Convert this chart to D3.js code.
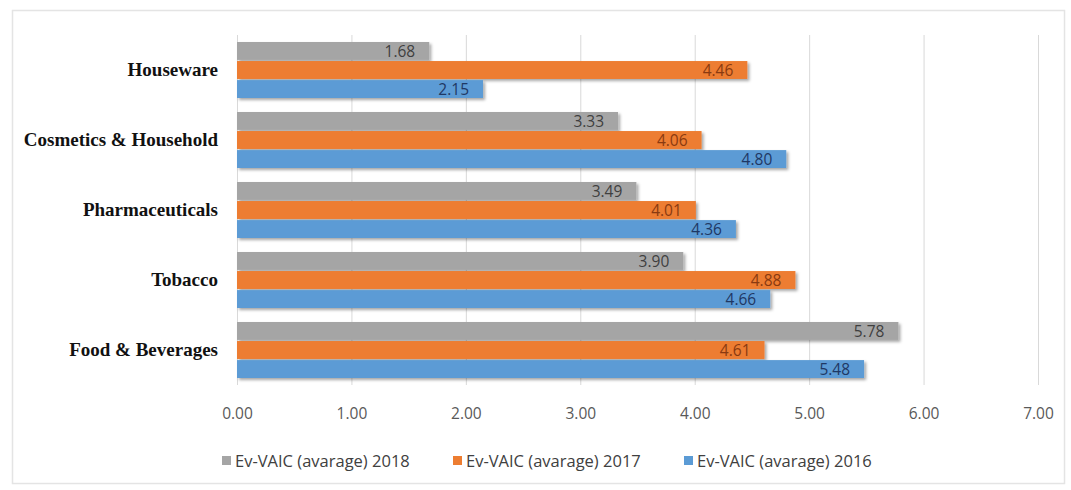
<!DOCTYPE html>
<html>
<head>
<meta charset="utf-8">
<script src="https://cdn.jsdelivr.net/npm/d3@7"></script>
<style>
  body { margin: 0; background: #fff; }
  svg { display: block; }
</style>
</head>
<body>
<div id="chart"></div>
<script>
// --- data ---
const categories = ["Houseware", "Cosmetics & Household", "Pharmaceuticals", "Tobacco", "Food & Beverages"];
const seriesNames = ["Ev-VAIC (avarage) 2018", "Ev-VAIC (avarage) 2017", "Ev-VAIC (avarage) 2016"];
const values2018 = [1.68, 3.33, 3.49, 3.90, 5.78];
const values2017 = [4.46, 4.06, 4.01, 4.88, 4.61];
const values2016 = [2.15, 4.80, 4.36, 4.66, 5.48];
const xTicks = [0, 1, 2, 3, 4, 5, 6, 7];

const seriesValues = [values2018, values2017, values2016];
const barColors = ["#a5a5a5", "#ed7d31", "#5b9bd5"];
const labelColors = ["#3f3f3f", "#8a3a10", "#1f3864"];

// --- setup ---
const W = 1071, H = 490;
const plot = { left: 237, right: 1038, top: 35, bottom: 385 };

const svg = d3.select("#chart").append("svg")
    .attr("width", W)
    .attr("height", H);

const defs = svg.append("defs");
const shadow = defs.append("filter")
    .attr("id", "shadow")
    .attr("x", "-5%").attr("y", "-30%")
    .attr("width", "115%").attr("height", "180%");
shadow.append("feDropShadow")
    .attr("dx", 2).attr("dy", 2)
    .attr("stdDeviation", 1.5)
    .attr("flood-color", "#000")
    .attr("flood-opacity", 0.35);

// chart frame
svg.append("rect")
    .attr("x", 12.5).attr("y", 10.5)
    .attr("width", 1052).attr("height", 473)
    .attr("fill", "#fff")
    .attr("stroke", "#e4e4e4")
    .attr("stroke-width", 1.5);

const x = d3.scaleLinear()
    .domain([0, 7])
    .range([plot.left, plot.right]);

const y = d3.scaleBand()
    .domain(categories)
    .range([plot.top, plot.bottom])
    .paddingInner(0.2)
    .paddingOuter(0.1);

const ySub = d3.scaleBand()
    .domain(d3.range(seriesNames.length))
    .range([0, y.bandwidth()])
    .paddingInner(0.06);

// gridlines
svg.append("g")
    .selectAll("line")
    .data(xTicks)
    .join("line")
    .attr("x1", d => x(d) + 0.5)
    .attr("x2", d => x(d) + 0.5)
    .attr("y1", plot.top)
    .attr("y2", plot.bottom)
    .attr("stroke", "#d9d9d9")
    .attr("stroke-width", 1);

// x axis labels
const xAxis = svg.append("g")
    .attr("transform", `translate(0,${plot.bottom + 20})`)
    .call(d3.axisBottom(x).tickValues(xTicks).tickFormat(d3.format(".2f")).tickSize(0));
xAxis.select(".domain").remove();
xAxis.selectAll("text")
    .attr("fill", "#595959")
    .style("font-family", "'Open Sans', sans-serif")
    .style("font-size", "15.5px");

// category labels
const yAxis = svg.append("g")
    .attr("transform", `translate(${plot.left - 16},0)`)
    .call(d3.axisLeft(y).tickSize(0));
yAxis.select(".domain").remove();
yAxis.selectAll("text")
    .attr("fill", "#111")
    .style("font-family", "'Liberation Serif', 'Times New Roman', serif")
    .style("font-weight", "bold")
    .style("font-size", "19px");

// bars
const groups = svg.append("g")
    .selectAll("g")
    .data(categories)
    .join("g")
    .attr("transform", c => `translate(0,${y(c)})`);

groups.each(function(c, ci) {
    const g = d3.select(this);
    seriesValues.forEach((vals, si) => {
        const v = vals[ci];
        g.append("rect")
            .attr("x", x(0))
            .attr("y", ySub(si))
            .attr("width", x(v) - x(0))
            .attr("height", ySub.bandwidth())
            .attr("fill", barColors[si])
            .attr("filter", "url(#shadow)");
        g.append("text")
            .attr("x", x(v) - 14)
            .attr("y", ySub(si) + ySub.bandwidth() / 2)
            .attr("dy", "0.36em")
            .attr("text-anchor", "end")
            .attr("fill", labelColors[si])
            .style("font-family", "'Open Sans', sans-serif")
            .style("font-size", "15.5px")
            .text(d3.format(".2f")(v));
    });
});

// legend
const legendX = [222, 453, 684];
const legend = svg.append("g")
    .selectAll("g")
    .data(seriesNames)
    .join("g")
    .attr("transform", (d, i) => `translate(${legendX[i]},461)`);
legend.append("rect")
    .attr("x", 0).attr("y", -5)
    .attr("width", 9).attr("height", 9)
    .attr("fill", (d, i) => barColors[i]);
legend.append("text")
    .attr("x", 13)
    .attr("y", 0)
    .attr("dy", "0.36em")
    .attr("fill", "#404040")
    .style("font-family", "'Open Sans', sans-serif")
    .style("font-size", "16.5px")
    .text(d => d);
</script>
</body>
</html>
